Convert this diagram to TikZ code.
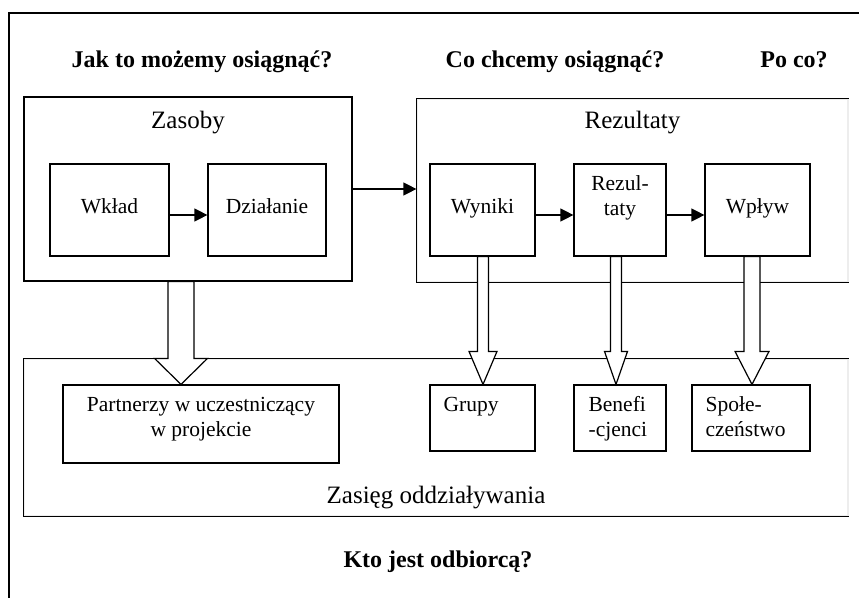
\documentclass[tikz,border=0pt]{standalone}
\usepackage{fontspec}
\setmainfont{Liberation Serif}
\usetikzlibrary{arrows.meta,calc}
\tikzset{
  lm frame/.style={line width=2.5pt},
  lm group/.style={
    rectangle,
    draw=black,
    line width=1.2pt,
    inner sep=0pt,
  },
  lm box/.style={
    rectangle,
    draw=black,
    line width=1.2pt,
    inner sep=0pt,
    text height=15pt,
    text depth=9pt,
    font=\fontsize{21.5}{25}\selectfont,
  },
  lm text/.style={inner sep=0pt, font=\fontsize{21.5}{25}\selectfont},
  lm label/.style={inner sep=0pt, anchor=base, font=\fontsize{25}{30}\selectfont},
  lm title/.style={inner sep=0pt, anchor=base, font=\bfseries\fontsize{24}{28}\selectfont},
  lm line/.style={line width=1.2pt},
  lm arrow/.style={-{Triangle[length=13pt,width=13pt]}, line width=1.2pt},
  lm fat arrow/.style={draw=black, fill=white, line width=1.2pt},
}
% #1 from, #2 to, #3 x, #4 half shaft, #5 half head, #6 head length
\newcommand{\lmfatarrow}[6]{%
  \draw[lm fat arrow] let \p1=(#1.south), \p2=(#2.north) in
    (#3pt-#4pt,\y1) -- (#3pt+#4pt,\y1) -- (#3pt+#4pt,\y2+#6pt)
    -- (#3pt+#5pt,\y2+#6pt) -- (#3pt,\y2) -- (#3pt-#5pt,\y2+#6pt)
    -- (#3pt-#4pt,\y2+#6pt) -- cycle;}

\begin{document}
\begin{tikzpicture}[x=1pt, y=-1pt]
  \useasboundingbox (0,0) rectangle (859,597);
  \clip (0,0) rectangle (859,597);
  \draw[lm frame] (9,13) rectangle (900,640);

  % questions
  \node[lm title] (jak) at (202,67) {Jak to możemy osiągnąć?};
  \node[lm title] (co) at (555,67) {Co chcemy osiągnąć?};
  \node[lm title] (poco) at (794,67) {Po co?};
  \node[lm title] (kto) at (438,567) {Kto jest odbiorcą?};

  % zasoby
  \node[lm group, minimum width=328pt, minimum height=184pt] (zasoby) at (188,189) {};
  \node[lm label] (zasoby-l) at ([yshift=-32pt]zasoby.north) {Zasoby};
  \node[lm box, minimum width=119pt, minimum height=92pt] (wklad) at (109.5,210) {Wkład};
  \node[lm box, minimum width=118pt, minimum height=92pt] (dzialanie) at (267,210) {Działanie};

  % rezultaty
  \node[lm group, draw=black!7, minimum width=431pt, minimum height=183pt] (rezultaty) at (632.5,190.5) {};
  \draw[lm line] (rezultaty.north east) -| (rezultaty.south west) -- (rezultaty.south east);
  \node[lm label] (rezultaty-l) at ([yshift=-30pt]rezultaty.north) {Rezultaty};
  \node[lm box, minimum width=105pt, minimum height=92pt] (wyniki) at (482.5,210) {Wyniki};
  \node[lm box, minimum width=92pt, minimum height=92pt] (rezul) at (620,210) {};
  \node[lm text, align=center, anchor=north] (rezul-t) at ([yshift=-12pt]rezul.north) {Rezul-\\taty};
  \node[lm box, minimum width=105pt, minimum height=92pt] (wplyw) at (757.5,210) {Wpływ};

  % zasieg
  \node[lm group, draw=black!7, minimum width=824pt, minimum height=157pt] (zasieg) at (436,437.5) {};
  \draw[lm line] (zasieg.north east) -| (zasieg.south west) -- (zasieg.south east);
  \node[lm label] (zasieg-l) at ([yshift=13pt]zasieg.south) {Zasięg oddziaływania};
  \node[lm box, minimum width=276pt, minimum height=78pt] (partnerzy) at (201,424) {};
  \node[lm text, align=center, anchor=north] (partnerzy-t) at ([yshift=-13pt]partnerzy.north) {Partnerzy w uczestniczący\\w projekcie};
  \node[lm box, minimum width=105pt, minimum height=66pt] (grupy) at (482.5,418) {};
  \node[lm text, anchor=north west] (grupy-t) at ([shift={(14pt,-13pt)}]grupy.north west) {Grupy};
  \node[lm box, minimum width=92pt, minimum height=66pt] (beneficjenci) at (620,418) {};
  \node[lm text, align=left, anchor=north west] (beneficjenci-t) at ([shift={(15pt,-12pt)}]beneficjenci.north west) {Benefi\\-cjenci};
  \node[lm box, minimum width=118pt, minimum height=66pt] (spoleczenstwo) at (751,418) {};
  \node[lm text, align=left, anchor=north west] (spoleczenstwo-t) at ([shift={(14pt,-12pt)}]spoleczenstwo.north west) {Społe-\\czeństwo};

  % arrows
  \draw[lm arrow] ([yshift=-5pt]wklad.east) -- ([yshift=-5pt]dzialanie.west);
  \draw[lm arrow] (zasoby.east) -- (zasoby.east -| rezultaty.west);
  \draw[lm arrow] ([yshift=-5pt]wyniki.east) -- ([yshift=-5pt]rezul.west);
  \draw[lm arrow] ([yshift=-5pt]rezul.east) -- ([yshift=-5pt]wplyw.west);

  \lmfatarrow{zasoby}{partnerzy}{181}{13}{26.5}{26}
  \lmfatarrow{wyniki}{grupy}{483}{5.5}{14}{33}
  \lmfatarrow{rezul}{beneficjenci}{616}{5.5}{11.5}{33}
  \lmfatarrow{wplyw}{spoleczenstwo}{752}{8}{17}{33}
\end{tikzpicture}
\end{document}
